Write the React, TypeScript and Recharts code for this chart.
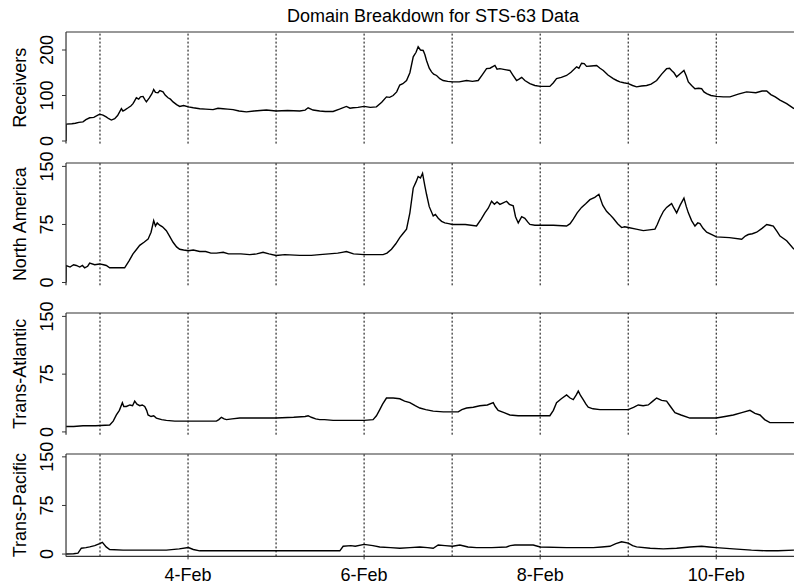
import { LineChart, Line, XAxis, YAxis, ReferenceLine, Label } from 'recharts'

// time is in days of February (3 = 3-Feb 00:00)
const dayLines = [3, 4, 5, 6, 7, 8, 9, 10]
const dateTicks = [4, 6, 8, 10]
const receiverTicks = [0, 100, 200]
const regionTicks = [0, 75, 150]

const receivers: [number, number][] = [
  [2.614, 0], [2.616, 37], [2.68, 38], [2.72, 39], [2.76, 41], [2.807, 42], [2.84, 47], [2.883, 51],
  [2.93, 52], [2.96, 55], [2.996, 59], [3.034, 57], [3.07, 53], [3.1, 49], [3.129, 46], [3.167, 49],
  [3.2, 56], [3.243, 71], [3.26, 66], [3.28, 68], [3.32, 73], [3.35, 77], [3.375, 82], [3.39, 87],
  [3.413, 95], [3.44, 92], [3.46, 97], [3.489, 98], [3.51, 91], [3.527, 86], [3.56, 95], [3.59, 104],
  [3.61, 113], [3.63, 107], [3.659, 106], [3.68, 111], [3.716, 108], [3.74, 101], [3.773, 95], [3.8, 92],
  [3.83, 86], [3.87, 80], [3.905, 76], [3.95, 78], [4.004, 75], [4.06, 73], [4.133, 71], [4.2, 70],
  [4.284, 69], [4.34, 72], [4.398, 71], [4.45, 70], [4.512, 69], [4.58, 66], [4.663, 64], [4.75, 66],
  [4.82, 67], [4.89, 68], [5.0, 66], [5.13, 67], [5.269, 66], [5.33, 68], [5.364, 73], [5.42, 68],
  [5.496, 66], [5.56, 65], [5.648, 65], [5.72, 70], [5.799, 76], [5.84, 72], [5.875, 73], [5.93, 74],
  [6.0, 76], [6.07, 74], [6.14, 75], [6.2, 85], [6.254, 97], [6.29, 96], [6.33, 100], [6.37, 108],
  [6.405, 123], [6.44, 126], [6.482, 133], [6.52, 150], [6.558, 185], [6.59, 195], [6.614, 207], [6.64, 200],
  [6.671, 199], [6.69, 190], [6.709, 177], [6.74, 160], [6.766, 152], [6.79, 147], [6.823, 144], [6.86, 137],
  [6.898, 133], [6.95, 131], [7.004, 130], [7.08, 130], [7.164, 133], [7.23, 131], [7.296, 133], [7.34, 145],
  [7.391, 159], [7.43, 160], [7.486, 166], [7.51, 158], [7.542, 159], [7.6, 157], [7.656, 155], [7.69, 145],
  [7.732, 133], [7.76, 136], [7.79, 140], [7.826, 133], [7.883, 126], [7.94, 122], [8.001, 120], [8.11, 120],
  [8.15, 128], [8.186, 137], [8.24, 140], [8.3, 144], [8.35, 151], [8.414, 163], [8.44, 160], [8.47, 171],
  [8.5, 170], [8.527, 164], [8.58, 165], [8.641, 166], [8.68, 160], [8.717, 155], [8.77, 145], [8.83, 137],
  [8.87, 133], [8.906, 130], [8.95, 128], [9.001, 126], [9.05, 122], [9.095, 119], [9.15, 121], [9.209, 122],
  [9.26, 125], [9.323, 133], [9.38, 147], [9.436, 159], [9.47, 160], [9.493, 155], [9.52, 150], [9.55, 141],
  [9.59, 148], [9.633, 155], [9.66, 143], [9.683, 130], [9.72, 122], [9.758, 115], [9.8, 116], [9.834, 115],
  [9.86, 108], [9.891, 104], [9.94, 100], [10.001, 98], [10.08, 97], [10.156, 97], [10.25, 103], [10.345, 108],
  [10.45, 106], [10.52, 110], [10.573, 110], [10.62, 102], [10.67, 97], [10.724, 90], [10.8, 82], [10.883, 71],
]

const northAmerica: [number, number][] = [
  [2.614, 0], [2.616, 22], [2.66, 20], [2.7, 23], [2.731, 22], [2.77, 20], [2.8, 22], [2.826, 19],
  [2.86, 21], [2.883, 25], [2.94, 23], [2.996, 24], [3.04, 23], [3.072, 22], [3.11, 19], [3.2, 19],
  [3.28, 19], [3.33, 28], [3.375, 37], [3.41, 42], [3.451, 48], [3.5, 52], [3.546, 56], [3.58, 65],
  [3.61, 80], [3.63, 73], [3.65, 77], [3.678, 74], [3.71, 72], [3.754, 67], [3.79, 60], [3.83, 52],
  [3.87, 46], [3.905, 43], [3.95, 42], [4.004, 41], [4.06, 42], [4.133, 40], [4.2, 40], [4.26, 38],
  [4.322, 38], [4.4, 39], [4.46, 37], [4.512, 37], [4.6, 37], [4.701, 36], [4.78, 37], [4.852, 39],
  [4.92, 37], [5.0, 35], [5.1, 36], [5.269, 35], [5.4, 35], [5.496, 36], [5.6, 37], [5.7, 38],
  [5.75, 39], [5.799, 40], [5.88, 37], [6.0, 36], [6.1, 36], [6.216, 36], [6.26, 38], [6.311, 43],
  [6.36, 50], [6.405, 58], [6.44, 63], [6.482, 69], [6.52, 90], [6.558, 122], [6.59, 130], [6.614, 137],
  [6.64, 135], [6.664, 141], [6.69, 125], [6.709, 114], [6.74, 98], [6.785, 86], [6.81, 88], [6.842, 83],
  [6.88, 79], [6.917, 77], [6.96, 76], [7.004, 75], [7.15, 75], [7.277, 73], [7.33, 82], [7.372, 90],
  [7.41, 96], [7.448, 105], [7.48, 101], [7.51, 104], [7.542, 101], [7.58, 103], [7.618, 105], [7.65, 101],
  [7.694, 99], [7.72, 85], [7.751, 77], [7.79, 85], [7.826, 83], [7.86, 78], [7.883, 75], [7.94, 74],
  [8.001, 74], [8.15, 74], [8.3, 73], [8.34, 76], [8.376, 82], [8.42, 90], [8.47, 97], [8.52, 102],
  [8.565, 107], [8.62, 110], [8.667, 114], [8.71, 100], [8.754, 92], [8.79, 88], [8.83, 83], [8.88, 76],
  [8.925, 71], [8.96, 72], [9.001, 71], [9.09, 69], [9.171, 67], [9.24, 68], [9.304, 69], [9.33, 75],
  [9.36, 83], [9.4, 92], [9.436, 97], [9.47, 100], [9.493, 102], [9.52, 96], [9.55, 90], [9.59, 100],
  [9.633, 109], [9.66, 98], [9.683, 90], [9.72, 80], [9.758, 73], [9.79, 77], [9.815, 76], [9.85, 70],
  [9.891, 65], [9.95, 62], [10.001, 59], [10.15, 58], [10.289, 56], [10.33, 60], [10.364, 62], [10.41, 63],
  [10.459, 65], [10.52, 70], [10.573, 75], [10.61, 74], [10.648, 73], [10.69, 66], [10.724, 60], [10.8, 54],
  [10.883, 43],
]

const transAtlantic: [number, number][] = [
  [2.614, 7], [2.7, 7], [2.807, 8], [2.95, 8], [3.11, 9], [3.15, 14], [3.186, 22], [3.22, 28],
  [3.254, 38], [3.27, 33], [3.299, 33], [3.34, 35], [3.37, 34], [3.394, 40], [3.42, 36], [3.451, 34],
  [3.48, 35], [3.508, 33], [3.53, 28], [3.546, 22], [3.58, 20], [3.61, 21], [3.64, 18], [3.7, 16],
  [3.754, 15], [3.85, 14], [4.004, 14], [4.2, 14], [4.322, 14], [4.35, 16], [4.379, 19], [4.41, 17],
  [4.436, 16], [4.5, 17], [4.587, 18], [4.8, 18], [5.0, 18], [5.2, 19], [5.33, 20], [5.364, 21],
  [5.4, 19], [5.45, 17], [5.496, 16], [5.55, 16], [5.648, 15], [5.8, 15], [6.0, 15], [6.102, 16],
  [6.14, 21], [6.178, 29], [6.21, 36], [6.254, 44], [6.33, 44], [6.405, 43], [6.46, 40], [6.52, 38],
  [6.58, 34], [6.633, 31], [6.7, 29], [6.785, 27], [6.9, 26], [7.004, 26], [7.069, 26], [7.11, 29],
  [7.164, 31], [7.24, 32], [7.315, 34], [7.4, 35], [7.467, 38], [7.49, 33], [7.523, 28], [7.59, 25],
  [7.656, 22], [7.75, 21], [7.845, 21], [8.0, 21], [8.11, 21], [8.15, 28], [8.186, 38], [8.24, 43],
  [8.3, 48], [8.34, 44], [8.376, 42], [8.41, 48], [8.433, 53], [8.46, 47], [8.489, 42], [8.52, 36],
  [8.546, 32], [8.6, 30], [8.679, 29], [8.85, 29], [9.001, 29], [9.06, 32], [9.114, 35], [9.17, 34],
  [9.228, 35], [9.28, 40], [9.323, 44], [9.38, 41], [9.436, 40], [9.48, 33], [9.531, 25], [9.6, 22],
  [9.701, 18], [9.85, 18], [10.001, 18], [10.1, 20], [10.194, 22], [10.29, 25], [10.383, 28], [10.44, 24],
  [10.497, 22], [10.55, 16], [10.61, 12], [10.75, 12], [10.883, 12],
]

const transPacific: [number, number][] = [
  [2.614, 0], [2.7, 0.5], [2.75, 1.5], [2.788, 9], [2.84, 10], [2.883, 11], [2.94, 13], [2.996, 16],
  [3.027, 18], [3.07, 11], [3.11, 7], [3.262, 6], [3.5, 6], [3.754, 6], [3.9, 8], [4.004, 10],
  [4.06, 7], [4.133, 5], [4.512, 5], [5.0, 5], [5.5, 5], [5.724, 5], [5.762, 12], [5.85, 13],
  [5.9, 12], [6.0, 15], [6.1, 13], [6.178, 11], [6.3, 10], [6.406, 9], [6.52, 10], [6.633, 11],
  [6.72, 10], [6.785, 9], [6.842, 14], [6.92, 13], [7.004, 12], [7.088, 14], [7.18, 11], [7.277, 10],
  [7.45, 10], [7.618, 11], [7.66, 13], [7.713, 14], [7.82, 14], [7.921, 14], [8.001, 11], [8.3, 10],
  [8.603, 10], [8.7, 11], [8.792, 12], [8.86, 16], [8.925, 19], [9.001, 17], [9.05, 13], [9.095, 11],
  [9.25, 9], [9.398, 8], [9.55, 9], [9.701, 11], [9.834, 12], [9.92, 11], [10.001, 10], [10.194, 8],
  [10.4, 6], [10.573, 5], [10.7, 5], [10.883, 6],
]

const FONT = '"Liberation Sans", Arial, Helvetica, sans-serif'
const X_DOMAIN: [number, number] = [2.614, 10.883]
const PAD = 18
const FRAME = '#333'

function YTick(props: any) {
  const { y, payload } = props
  return (
    <text transform={`translate(52.5,${y}) rotate(-90)`} textAnchor="middle" fontSize={18} fontFamily={FONT} fill="#000">
      {payload.value}
    </text>
  )
}

function XTick(props: any) {
  const { x, y, payload } = props
  return (
    <text x={x} y={y} dy={20} textAnchor="middle" fontSize={18} fontFamily={FONT} fill="#000">
      {`${payload.value}-Feb`}
    </text>
  )
}

type PanelProps = {
  label: string
  series: [number, number][]
  domain: [number, number]
  ticks: number[]
  top: number
  height: number
  last?: boolean
}

function Panel({ label, series, domain, ticks, top, height, last }: PanelProps) {
  const data = series.map(([t, v]) => ({ t, v }))
  const axisH = last ? 36 : 0
  return (
    <div style={{ position: 'absolute', left: 0, top: top - PAD }}>
      <LineChart
        width={794}
        height={height + PAD + (last ? axisH : PAD)}
        data={data}
        margin={{ top: PAD, right: 0, bottom: last ? 0 : PAD, left: 0 }}
      >
        <XAxis
          type="number"
          dataKey="t"
          domain={X_DOMAIN}
          allowDataOverflow
          ticks={last ? dateTicks : []}
          interval={0}
          height={axisH}
          tickSize={last ? 3 : 0}
          tick={last ? <XTick /> : false}
          axisLine={{ stroke: FRAME, strokeWidth: 1.2 }}
          tickLine={{ stroke: FRAME }}
        />
        <YAxis
          type="number"
          domain={domain}
          allowDataOverflow
          ticks={ticks}
          interval={0}
          width={66}
          tickSize={4}
          tick={<YTick />}
          axisLine={{ stroke: FRAME, strokeWidth: 1.2 }}
          tickLine={{ stroke: FRAME }}
        >
          <Label
            content={() => (
              <text
                transform={`translate(26,${PAD + height / 2}) rotate(-90)`}
                textAnchor="middle"
                fontSize={18}
                fontFamily={FONT}
                fill="#000"
              >
                {label}
              </text>
            )}
          />
        </YAxis>
        <ReferenceLine y={domain[1]} stroke={FRAME} strokeWidth={1.2} />
        {dayLines.map((d) => (
          <ReferenceLine key={d} x={d} stroke="#000" strokeDasharray="2 2" />
        ))}
        <Line type="linear" dataKey="v" stroke="#000" strokeWidth={1.4} dot={false} isAnimationActive={false} />
      </LineChart>
    </div>
  )
}

export default function App() {
  return (
    <div style={{ position: 'absolute', left: 0, top: 0, width: 794, height: 587, background: '#fff', overflow: 'hidden' }}>
      <svg width={794} height={30} style={{ position: 'absolute', left: 0, top: 0 }}>
        <text x={433} y={22} textAnchor="middle" fontSize={18} fontFamily={FONT} fill="#000">
          Domain Breakdown for STS-63 Data
        </text>
      </svg>
      <Panel label="Receivers" series={receivers} domain={[-5.7, 239.6]} ticks={receiverTicks} top={31.7} height={111.6} />
      <Panel label="North America" series={northAmerica} domain={[-3.6, 154.4]} ticks={regionTicks} top={162.7} height={122.3} />
      <Panel label="Trans-Atlantic" series={transAtlantic} domain={[-3.6, 154.4]} ticks={regionTicks} top={313.3} height={121.7} />
      <Panel label="Trans-Pacific" series={transPacific} domain={[-3.6, 154.4]} ticks={regionTicks} top={454.3} height={102.4} last />
    </div>
  )
}
